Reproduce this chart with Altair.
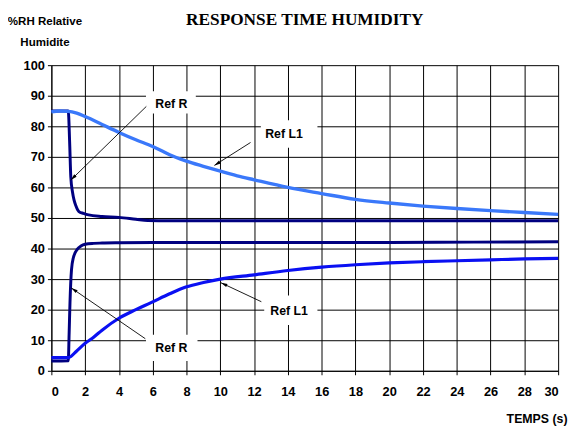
import math
import altair as alt
import pandas as pd

# ---------------- data ----------------
TITLE = "RESPONSE TIME HUMIDITY"
X_TITLE = "TEMPS (s)"
Y_TITLE = ["%RH Relative", "Humidite"]
x_ticks = list(range(0, 31, 2))
y_ticks = list(range(0, 101, 10))

# Ref R, falling step (navy)
r_down_t = [0, 1.0, 1.08, 1.15, 1.25, 1.34, 1.45, 1.63, 1.9, 2.2, 3, 4, 5, 5.7, 7, 10, 15, 20, 25, 30]
r_down_rh = [85, 85, 75, 63.4, 58.5, 55.9, 54, 52.1, 51.5, 51, 50.5, 50.2, 49.6, 49.2, 49.1, 49.1, 49.1, 49.1, 49.1, 49.1]
# Ref R, rising step (navy)
r_up_t = [0, 1.0, 1.05, 1.1, 1.19, 1.3, 1.54, 1.75, 2.0, 2.5, 3, 4, 6, 10, 15, 20, 25, 30]
r_up_rh = [3.2, 3.3, 12, 22, 33, 37, 39.8, 40.8, 41.4, 41.7, 41.8, 41.9, 42, 42, 42, 42, 42.1, 42.2]
# Ref L1, falling step (light blue)
l1_down_t = [0, 0.5, 1, 1.5, 2, 3, 4, 5, 6, 6.7, 7, 8, 9, 10, 11, 12, 14, 16, 18, 20, 22, 24, 26, 28, 30]
l1_down_rh = [84.7, 85, 84.9, 84.3, 83.2, 80.6, 78, 75.6, 73.4, 71.5, 70.7, 68.6, 66.9, 65.3, 63.8, 62.5,
              60, 58, 56.1, 54.9, 53.9, 53.1, 52.4, 51.8, 51.2]
# Ref L1, rising step (blue)
l1_up_t = [0, 1.0, 1.5, 2, 2.5, 3, 4, 5, 5.9, 7, 7.96, 9, 10, 12, 14, 16, 18, 20, 22, 24, 26, 28, 30]
l1_up_rh = [4.3, 4.3, 6.5, 9, 11, 13.3, 17.2, 20, 22.3, 25.2, 27.4, 28.9, 30.0, 31.4, 32.8, 33.9, 34.7,
            35.3, 35.7, 36.0, 36.3, 36.6, 36.8]

# annotations (data units)
ann_text = ["Ref R", "Ref R", "Ref L1", "Ref L1"]
ann_t = [7.1, 7.1, 13.77, 14.07]
ann_rh = [87.2, 7.5, 77.5, 19.5]
box_t0 = [5.6, 5.6, 12.4, 12.6]
box_t1 = [8.55, 8.65, 15.75, 15.75]
box_rh0 = [84.2, 3.2, 73.0, 15.0]
box_rh1 = [91.5, 11.8, 82.0, 24.6]
arr_t0 = [5.62, 5.56, 11.79, 12.43]
arr_rh0 = [86.5, 10.5, 74.7, 22.6]
arr_t1 = [1.15, 1.18, 9.65, 10.04]
arr_rh1 = [62.4, 27.1, 67.2, 28.8]

# ---------------- layout ----------------
W, H = 514, 310
X_MAX, Y_MAX = 30, 100
FONT = "Liberation Sans"

xs = alt.Scale(domain=[0, X_MAX], nice=False, zero=False)
ys = alt.Scale(domain=[0, Y_MAX], nice=False, zero=False)

x_axis = alt.Axis(values=x_ticks, format="d", title=X_TITLE, grid=True,
                  titleAnchor="end", titleAlign="right", titleX=523, titleY=52,
                  titleBaseline="alphabetic", titleFont=FONT, titleFontSize=12.5,
                  titleFontWeight="bold", titleColor="black",
                  labelPadding=11)
y_axis = alt.Axis(values=y_ticks, format="d", title=Y_TITLE, grid=True,
                  titleAngle=0, titleAlign="center", titleBaseline="alphabetic",
                  titleX=-7, titleY=-41, titleLineHeight=21, titleFont=FONT,
                  titleFontSize=11.7, titleFontWeight="bold", titleColor="black",
                  labelPadding=3)


def xenc(field):
    return alt.X(field, type="quantitative", scale=xs, axis=x_axis)


def yenc(field):
    return alt.Y(field, type="quantitative", scale=ys, axis=y_axis)


def curve(t, rh, color, width):
    df = pd.DataFrame({"t": t, "rh": rh})
    return alt.Chart(df).mark_line(color=color, strokeWidth=width, interpolate="monotone").encode(
        x=xenc("t"), y=yenc("rh"))


lines = [
    curve(r_down_t, r_down_rh, "#000080", 3),
    curve(r_up_t, r_up_rh, "#000080", 3),
    curve(l1_up_t, l1_up_rh, "#0A10F2", 3.2),
    curve(l1_down_t, l1_down_rh, "#3A78FA", 3.4),
]

# arrowhead angles (screen space)
px_x = W / X_MAX
px_y = H / Y_MAX
angles = []
for a, b, c, d in zip(arr_t0, arr_rh0, arr_t1, arr_rh1):
    dx = (c - a) * px_x
    dy = -(d - b) * px_y
    angles.append(math.degrees(math.atan2(dx, -dy)) % 360)

ann = pd.DataFrame({
    "label": ann_text, "t": ann_t, "rh": ann_rh,
    "bt0": box_t0, "bt1": box_t1, "br0": box_rh0, "br1": box_rh1,
    "at0": arr_t0, "ar0": arr_rh0, "at1": arr_t1, "ar1": arr_rh1,
    "ang": angles,
})

boxes = alt.Chart(ann).mark_rect(color="white").encode(
    x=xenc("bt0"), x2="bt1", y=yenc("br0"), y2="br1")
arrows = alt.Chart(ann).mark_rule(color="black", strokeWidth=0.9).encode(
    x=xenc("at0"), y=yenc("ar0"), x2="at1", y2="ar1")
heads = alt.Chart(ann).mark_point(
    shape="M0,0L0.45,1.7L-0.45,1.7Z", filled=True, color="black", opacity=1, size=60,
    strokeWidth=0).encode(
    x=xenc("at1"), y=yenc("ar1"), angle=alt.Angle("ang:Q", scale=None))
labels = alt.Chart(ann).mark_text(font=FONT, fontSize=12.5, fontWeight="bold", color="black",
                                  align="center", baseline="middle").encode(
    x=xenc("t"), y=yenc("rh"), text="label:N")

chart = alt.layer(*lines, boxes, arrows, heads, labels).properties(
    width=W, height=H,
    title=alt.TitleParams(TITLE, font="Liberation Serif", fontSize=17.5, fontWeight="bold",
                          color="black", anchor="middle", frame="group",
                          baseline="alphabetic", dy=31),
    autosize=alt.AutoSizeParams(type="none"),
    padding={"left": 44, "top": 55, "right": 10, "bottom": 53},
).configure_view(stroke=None).configure_axis(
    labelFont=FONT, labelFontSize=13, labelFontWeight="bold", labelColor="black",
    domainColor="black", tickColor="black", tickSize=4,
    gridColor="#000000", gridOpacity=1, gridWidth=1,
)

chart.save("out.html", embed_options={"renderer": "svg", "actions": False})
